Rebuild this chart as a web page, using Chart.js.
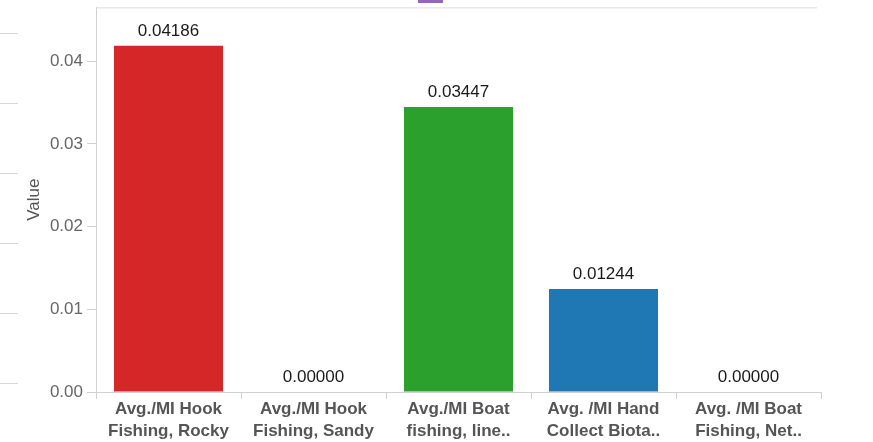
<!DOCTYPE html>
<html>
<head>
<meta charset="utf-8">
<script src="https://cdn.jsdelivr.net/npm/chart.js@4.4.1/dist/chart.umd.min.js"></script>
<style>
  html, body { margin: 0; padding: 0; background: #fff; }
  #wrap { position: relative; width: 873px; height: 442px; overflow: hidden; }
  .deco { position: absolute; background: #d6d6d6; height: 1px; }
</style>
</head>
<body>
<div id="wrap">
  <canvas id="c"></canvas>
  <div class="deco" style="left:0;top:33px;width:18px;"></div>
  <div class="deco" style="left:0;top:103px;width:18px;"></div>
  <div class="deco" style="left:0;top:173px;width:18px;"></div>
  <div class="deco" style="left:0;top:243px;width:18px;"></div>
  <div class="deco" style="left:0;top:313px;width:18px;"></div>
  <div class="deco" style="left:0;top:383px;width:18px;"></div>
  <div style="position:absolute;left:418px;top:0;width:25px;height:3px;background:#9467bd;"></div>
</div>
<script>
const categories = [
  ["Avg./MI Hook", "Fishing, Rocky"],
  ["Avg./MI Hook", "Fishing, Sandy"],
  ["Avg./MI Boat", "fishing, line.."],
  ["Avg. /MI Hand", "Collect Biota.."],
  ["Avg. /MI Boat", "Fishing, Net.."]
];
const values = [0.04186, 0.00000, 0.03447, 0.01244, 0.00000];
const barColors = ["#d62728", "#ff7f0e", "#2ca02c", "#1f77b4", "#9467bd"];
const yTicks = [0, 0.01, 0.02, 0.03, 0.04];

const FONT = "'Liberation Sans', Arial, sans-serif";

const valueLabels = {
  id: 'valueLabels',
  afterDatasetsDraw(chart) {
    const ctx = chart.ctx;
    const meta = chart.getDatasetMeta(0);
    ctx.save();
    ctx.font = "17px " + FONT;
    ctx.fillStyle = "#1a1a1a";
    ctx.textAlign = "center";
    ctx.textBaseline = "alphabetic";
    meta.data.forEach((bar, i) => {
      ctx.fillText(values[i].toFixed(5), bar.x, bar.y - 10);
    });
    ctx.restore();
  }
};

const topBorder = {
  id: 'topBorder',
  afterDraw(chart) {
    const a = chart.chartArea;
    const ctx = chart.ctx;
    ctx.save();
    ctx.strokeStyle = "#dcdcdc";
    ctx.lineWidth = 1;
    ctx.beginPath();
    ctx.moveTo(a.left, a.top + 0.5);
    ctx.lineTo(a.right - 4, a.top + 0.5);
    ctx.stroke();
    ctx.restore();
  }
};

new Chart(document.getElementById('c'), {
  type: 'bar',
  data: {
    labels: categories,
    datasets: [{
      data: values,
      backgroundColor: barColors,
      borderWidth: 0,
      barPercentage: 0.752,
      categoryPercentage: 1.0
    }]
  },
  options: {
    responsive: true,
    maintainAspectRatio: false,
    animation: false,
    layout: { padding: { left: 0, right: 52, top: 6, bottom: 0 } },
    plugins: { legend: { display: false }, tooltip: { enabled: false } },
    scales: {
      x: {
        grid: { offset: true, drawOnChartArea: false, drawTicks: true, tickLength: 7, color: "#d0d0d0" },
        border: { color: "#d0d0d0" },
        ticks: {
          autoSkip: false, maxRotation: 0, minRotation: 0, padding: -1,
          color: "#555", font: { family: FONT, size: 17, weight: 'bold', lineHeight: 1.3 }
        },
        afterFit(scale) { scale.height = 50; }
      },
      y: {
        min: 0, max: 0.0465,
        grid: { drawOnChartArea: false, drawTicks: true, tickLength: 9, color: "#d0d0d0" },
        border: { color: "#d0d0d0" },
        afterBuildTicks(scale) { scale.ticks = yTicks.map(v => ({ value: v })); },
        ticks: {
          includeBounds: false, padding: 4,
          color: "#666", font: { family: FONT, size: 17, lineHeight: 0.4 },
          callback: v => Number(v).toFixed(2)
        },
        title: {
          display: true, text: "Value", color: "#555",
          font: { family: FONT, size: 17 }, padding: { top: 24, bottom: 0 }
        },
        afterFit(scale) { scale.width = 96; }
      }
    }
  },
  plugins: [valueLabels, topBorder]
});
</script>
</body>
</html>
